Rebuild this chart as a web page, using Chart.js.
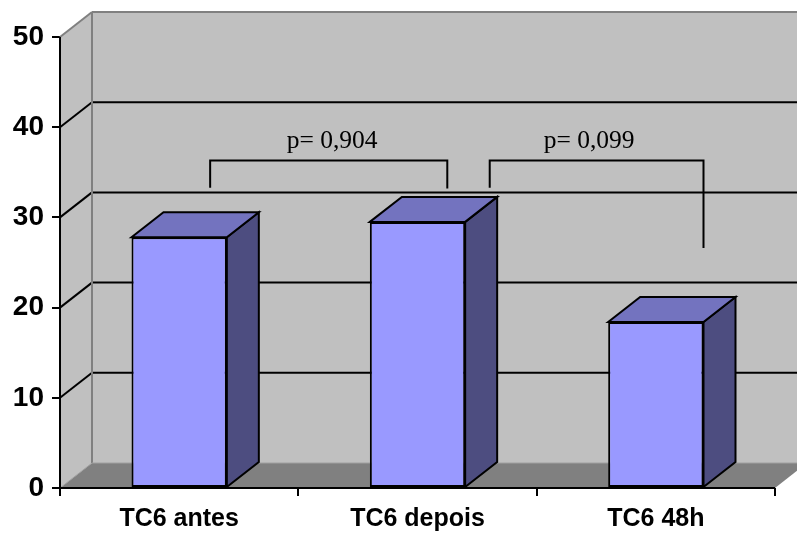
<!DOCTYPE html>
<html>
<head>
<meta charset="utf-8">
<script src="https://cdn.jsdelivr.net/npm/chart.js@4/dist/chart.umd.min.js"></script>
<style>
  html, body { margin: 0; padding: 0; background: #ffffff; }
  #c { display: block; }
</style>
</head>
<body>
<canvas id="c" width="797" height="534"></canvas>
<script>
// Chart data
const categories = ['TC6 antes', 'TC6 depois', 'TC6 48h'];
const values = [27.8, 29.5, 18.4];
const yTicks = [0, 10, 20, 30, 40, 50];
const pLabels = ['p= 0,904', 'p= 0,099'];

// Depth of the 3D box (pixels, toward upper right)
const DX = 32, DY = -25;

const colors = {
  wall: '#c0c0c0',
  floor: '#808080',
  wallEdge: '#808080',
  barFront: '#9999ff',
  barTop: '#7373bf',
  barSide: '#4d4d80'
};

// Significance brackets: category positions (fractional index) and heights on the value axis
const brackets = [
  { from: 0.13, to: 1.125, top: 36.3, leftEnd: 33.3, rightEnd: 33.2, textAt: 0.642, textY: 37.7 },
  { from: 1.303, to: 2.2, top: 36.3, leftEnd: 33.3, rightEnd: 26.6, textAt: 1.72, textY: 37.7 }
];

function poly(ctx, pts, fill, stroke, lw) {
  ctx.beginPath();
  ctx.moveTo(pts[0][0], pts[0][1]);
  for (let i = 1; i < pts.length; i++) ctx.lineTo(pts[i][0], pts[i][1]);
  ctx.closePath();
  if (fill) { ctx.fillStyle = fill; ctx.fill(); }
  if (stroke) { ctx.strokeStyle = stroke; ctx.lineWidth = lw || 1; ctx.lineJoin = 'miter'; ctx.stroke(); }
}

function line(ctx, x1, y1, x2, y2, color, lw) {
  ctx.beginPath();
  ctx.moveTo(x1, y1);
  ctx.lineTo(x2, y2);
  ctx.strokeStyle = color;
  ctx.lineWidth = lw;
  ctx.stroke();
}

const box3d = {
  id: 'box3d',
  beforeDatasetsDraw(chart) {
    const ctx = chart.ctx;
    const a = chart.chartArea;
    const y = chart.scales.y;
    const W = chart.width;
    ctx.save();
    // back wall
    ctx.fillStyle = colors.wall;
    ctx.fillRect(a.left + DX, a.top + DY, W - (a.left + DX) + 40, a.bottom - a.top);
    // side wall
    poly(ctx, [[a.left, a.top], [a.left + DX, a.top + DY], [a.left + DX, a.bottom + DY], [a.left, a.bottom]], colors.wall);
    // floor
    poly(ctx, [[a.left, a.bottom], [a.right, a.bottom], [a.right + DX, a.bottom + DY], [a.left + DX, a.bottom + DY]], colors.floor);

    // grid lines on side and back walls
    yTicks.forEach(v => {
      if (v === y.min || v === y.max) return;
      const py = y.getPixelForValue(v);
      line(ctx, a.left, py, a.left + DX, py + DY, '#000', 2);
      line(ctx, a.left + DX, py + DY, W + 10, py + DY, '#000', 2);
    });

    // wall edges
    line(ctx, a.left, a.top, a.left + DX, a.top + DY, colors.wallEdge, 2);
    line(ctx, a.left + DX, a.top + DY, W + 10, a.top + DY, colors.wallEdge, 2);
    line(ctx, a.left + DX, a.top + DY, a.left + DX, a.bottom + DY, colors.wallEdge, 2);
    line(ctx, a.left, a.bottom, a.left + DX, a.bottom + DY, '#a0a0a0', 1);
    line(ctx, a.left + DX, a.bottom + DY, W + 10, a.bottom + DY, '#a0a0a0', 1);

    // top and side faces of each bar
    const meta = chart.getDatasetMeta(0);
    meta.data.forEach(bar => {
      const p = bar.getProps(['x', 'y', 'base', 'width'], true);
      const l = p.x - p.width / 2, r = p.x + p.width / 2;
      poly(ctx, [[r, p.y], [r + DX, p.y + DY], [r + DX, p.base + DY], [r, p.base]], colors.barSide, '#000', 2);
      poly(ctx, [[l, p.y], [l + DX, p.y + DY], [r + DX, p.y + DY], [r, p.y]], colors.barTop, '#000', 2);
    });
    ctx.restore();
  },
  afterDatasetsDraw(chart) {
    const ctx = chart.ctx;
    const a = chart.chartArea;
    const x = chart.scales.x, y = chart.scales.y;
    ctx.save();
    // axis lines
    line(ctx, a.left, a.top, a.left, a.bottom + 1, '#000', 2);
    line(ctx, a.left - 1, a.bottom, a.right, a.bottom, '#000', 2);
    // brackets with p-values
    brackets.forEach((b, i) => {
      const x1 = x.getPixelForValue(b.from), x2 = x.getPixelForValue(b.to);
      const yt = y.getPixelForValue(b.top);
      ctx.beginPath();
      ctx.moveTo(x1, y.getPixelForValue(b.leftEnd));
      ctx.lineTo(x1, yt);
      ctx.lineTo(x2, yt);
      ctx.lineTo(x2, y.getPixelForValue(b.rightEnd));
      ctx.strokeStyle = '#000';
      ctx.lineWidth = 2;
      ctx.lineJoin = 'miter';
      ctx.stroke();
      ctx.fillStyle = '#000';
      ctx.font = '25.5px "Liberation Serif", "Times New Roman", serif';
      ctx.textAlign = 'center';
      ctx.textBaseline = 'alphabetic';
      ctx.fillText(pLabels[i], x.getPixelForValue(b.textAt), y.getPixelForValue(b.textY));
    });
    ctx.restore();
  }
};

const fontFamily = '"Liberation Sans", Arial, sans-serif';

new Chart(document.getElementById('c'), {
  type: 'bar',
  data: {
    labels: categories,
    datasets: [{
      data: values,
      backgroundColor: colors.barFront,
      borderColor: '#000',
      borderWidth: 2,
      borderSkipped: false,
      categoryPercentage: 0.8,
      barPercentage: 0.5
    }]
  },
  options: {
    responsive: false,
    animation: false,
    devicePixelRatio: 1,
    layout: { padding: { top: 37, right: 22, left: 0, bottom: 0 } },
    plugins: { legend: { display: false }, tooltip: { enabled: false } },
    scales: {
      x: {
        grid: { offset: true, drawOnChartArea: false, tickLength: 8, color: '#000', lineWidth: 2 },
        border: { display: false },
        ticks: { color: '#000', font: { family: fontFamily, size: 25, weight: 'bold' }, padding: 8 },
        afterFit(s) { s.height = 46; }
      },
      y: {
        min: 0,
        max: 50,
        ticks: { stepSize: 10, color: '#000', font: { family: fontFamily, size: 28, weight: 'bold' }, padding: 8 },
        grid: { drawOnChartArea: false, tickLength: 8, color: '#000', lineWidth: 2 },
        border: { display: false },
        afterFit(s) { s.width = 60; }
      }
    }
  },
  plugins: [box3d]
});
</script>
</body>
</html>
